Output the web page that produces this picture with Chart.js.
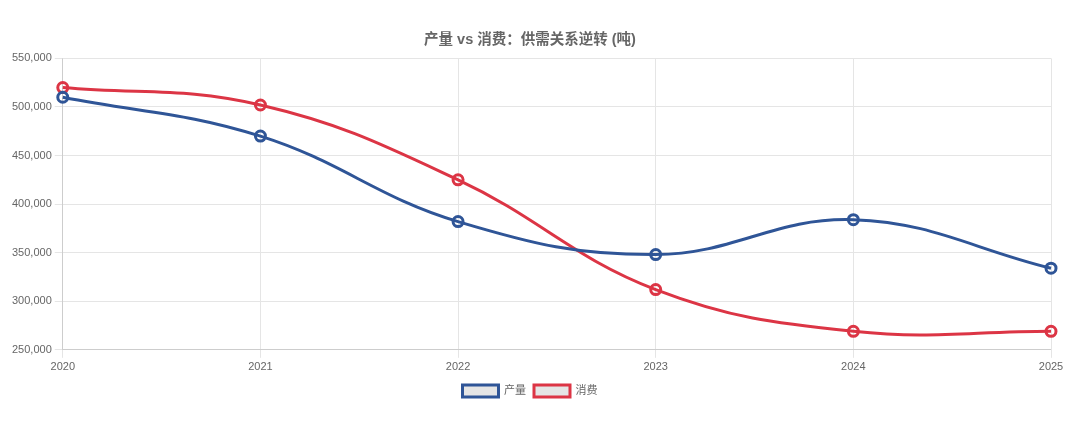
<!DOCTYPE html>
<html>
<head>
<meta charset="utf-8">
<script src="https://cdn.jsdelivr.net/npm/chart.js@4/dist/chart.umd.min.js"></script>
<style>
  html, body { margin: 0; padding: 0; background: #fff; }
  .grafico { width: 1080px; height: 425px; }
</style>
</head>
<body>
<div class="grafico"><canvas id="graficoOferta"></canvas></div>
<script>
var anos = ["2020", "2021", "2022", "2023", "2024", "2025"];
var producao = [510000, 470000, 382000, 348000, 384000, 334000];
var consumo = [520000, 502000, 425000, 312000, 269000, 269000];
var yMin = 250000;
var yMax = 550000;
var yPasso = 50000;

Chart.defaults.font.family = "'Liberation Sans', Arial, 'Noto Sans CJK SC', sans-serif";
Chart.defaults.color = "#666";

const ctx = document.getElementById("graficoOferta").getContext("2d");

const grafico = new Chart(ctx, {
  type: "line",
  data: {
    labels: anos,
    datasets: [
      {
        label: "产量",
        data: producao,
        borderColor: "#2f5597",
        backgroundColor: "rgba(0,0,0,0.1)",
        borderWidth: 3,
        pointRadius: 5,
        pointBorderWidth: 3,
        pointBackgroundColor: "transparent",
        tension: 0.4,
      },
      {
        label: "消费",
        data: consumo,
        borderColor: "#dc3545",
        backgroundColor: "rgba(0,0,0,0.1)",
        borderWidth: 3,
        pointRadius: 5,
        pointBorderWidth: 3,
        pointBackgroundColor: "transparent",
        tension: 0.4,
      },
    ],
  },
  options: {
    responsive: true,
    maintainAspectRatio: false,
    animation: false,
    layout: { padding: { left: 9, right: 29, top: 21, bottom: 18 } },
    plugins: {
      title: {
        display: true,
        text: "产量 vs 消费：供需关系逆转 (吨)",
        font: { size: 14.5, weight: "bold" },
        padding: { top: 10, bottom: 10 },
      },
      legend: {
        position: "bottom",
        labels: { boxWidth: 36, boxHeight: 12, padding: 8, font: { size: 11 } },
      },
    },
    scales: {
      x: {
        offset: false,
        grid: { color: "#e5e5e5" },
        ticks: { font: { size: 11 } },
      },
      y: {
        min: yMin,
        max: yMax,
        ticks: {
          stepSize: yPasso,
          font: { size: 11 },
          callback: function (v) { return v.toLocaleString("en-US"); },
        },
        grid: { color: "#e5e5e5" },
      },
    },
  },
});
</script>
</body>
</html>
